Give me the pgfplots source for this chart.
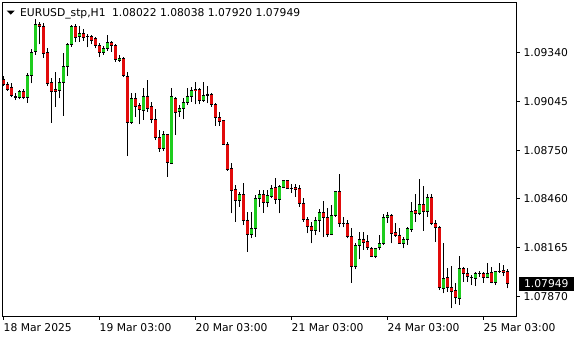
\documentclass[border=0pt]{standalone}
\usepackage{fontspec}
\setmainfont{DejaVu Sans}
\usepackage{pgfplots}
\usepackage{pgfplotstable}
\pgfplotsset{compat=1.18}
\definecolor{bull}{RGB}{30,205,30}
\definecolor{bear}{RGB}{225,10,10}
\pgfplotstableread{
i o h l c
0 1.09177 1.09197 1.09137 1.09149
1 1.09149 1.09163 1.09109 1.09119
2 1.09131 1.09153 1.09069 1.09081
3 1.09075 1.09093 1.09053 1.09071
4 1.09069 1.09113 1.09057 1.09103
5 1.09107 1.09121 1.09057 1.09067
6 1.09069 1.09213 1.09037 1.09203
7 1.09199 1.09360 1.09153 1.09340
8 1.09344 1.09538 1.09324 1.09510
9 1.09510 1.09524 1.09388 1.09494
10 1.09498 1.09514 1.09308 1.09334
11 1.09338 1.09364 1.09137 1.09153
12 1.09157 1.09183 1.08917 1.09107
13 1.09119 1.09224 1.09013 1.09105
14 1.09113 1.09183 1.09063 1.09161
15 1.09157 1.09338 1.08957 1.09254
16 1.09254 1.09398 1.09197 1.09384
17 1.09384 1.09504 1.09374 1.09494
18 1.09494 1.09510 1.09400 1.09430
19 1.09434 1.09498 1.09404 1.09454
20 1.09454 1.09480 1.09408 1.09430
21 1.09434 1.09450 1.09370 1.09432
22 1.09434 1.09444 1.09388 1.09412
23 1.09420 1.09430 1.09364 1.09378
24 1.09378 1.09394 1.09310 1.09338
25 1.09338 1.09378 1.09324 1.09364
26 1.09364 1.09444 1.09350 1.09400
27 1.09400 1.09410 1.09344 1.09378
28 1.09378 1.09388 1.09284 1.09294
29 1.09290 1.09324 1.09284 1.09304
30 1.09304 1.09314 1.09193 1.09203
31 1.09197 1.09224 1.08716 1.08917
32 1.08917 1.09097 1.08909 1.09063
33 1.09063 1.09097 1.08953 1.09013
34 1.09017 1.09037 1.08907 1.08993
35 1.08989 1.09123 1.08933 1.09077
36 1.09077 1.09173 1.08983 1.09003
37 1.09013 1.09039 1.08913 1.08933
38 1.08933 1.08997 1.08812 1.08827
39 1.08829 1.08873 1.08742 1.08762
40 1.08762 1.08867 1.08746 1.08843
41 1.08847 1.08850 1.08592 1.08678
42 1.08672 1.09123 1.08668 1.09077
43 1.09063 1.09069 1.08843 1.08977
44 1.08983 1.09023 1.08953 1.09003
45 1.09003 1.09063 1.08937 1.09039
46 1.09039 1.09123 1.09023 1.09077
47 1.09077 1.09133 1.09043 1.09113
48 1.09117 1.09163 1.09027 1.09109
49 1.09117 1.09123 1.09027 1.09049
50 1.09049 1.09163 1.09043 1.09083
51 1.09089 1.09137 1.09033 1.09083
52 1.09089 1.09097 1.09013 1.09027
53 1.09027 1.09033 1.08897 1.08947
54 1.08949 1.08983 1.08897 1.08923
55 1.08927 1.08933 1.08782 1.08786
56 1.08788 1.08802 1.08628 1.08638
57 1.08642 1.08676 1.08371 1.08508
58 1.08516 1.08542 1.08321 1.08448
59 1.08448 1.08502 1.08411 1.08482
60 1.08482 1.08552 1.08301 1.08327
61 1.08331 1.08381 1.08141 1.08245
62 1.08245 1.08381 1.08221 1.08281
63 1.08281 1.08482 1.08231 1.08462
64 1.08462 1.08512 1.08411 1.08482
65 1.08482 1.08512 1.08375 1.08438
66 1.08436 1.08512 1.08407 1.08480
67 1.08472 1.08542 1.08462 1.08522
68 1.08524 1.08582 1.08428 1.08456
69 1.08456 1.08542 1.08371 1.08532
70 1.08528 1.08572 1.08522 1.08566
71 1.08566 1.08568 1.08520 1.08522
72 1.08522 1.08548 1.08496 1.08520
73 1.08524 1.08548 1.08472 1.08516
74 1.08518 1.08542 1.08411 1.08432
75 1.08432 1.08462 1.08321 1.08335
76 1.08335 1.08351 1.08251 1.08291
77 1.08295 1.08321 1.08191 1.08271
78 1.08271 1.08351 1.08241 1.08331
79 1.08327 1.08395 1.08261 1.08377
80 1.08377 1.08446 1.08227 1.08347
81 1.08347 1.08401 1.08231 1.08245
82 1.08245 1.08422 1.08241 1.08361
83 1.08357 1.08508 1.08351 1.08502
84 1.08502 1.08608 1.08287 1.08311
85 1.08311 1.08351 1.08287 1.08309
86 1.08311 1.08331 1.08221 1.08231
87 1.08231 1.08281 1.07954 1.08051
88 1.08051 1.08195 1.08035 1.08175
89 1.08175 1.08261 1.08095 1.08217
90 1.08217 1.08261 1.08151 1.08195
91 1.08201 1.08241 1.08151 1.08165
92 1.08161 1.08171 1.08107 1.08111
93 1.08111 1.08161 1.08101 1.08157
94 1.08165 1.08241 1.08151 1.08187
95 1.08187 1.08367 1.08181 1.08347
96 1.08347 1.08381 1.08315 1.08361
97 1.08361 1.08367 1.08191 1.08251
98 1.08255 1.08315 1.08231 1.08237
99 1.08241 1.08281 1.08187 1.08191
100 1.08191 1.08231 1.08161 1.08217
101 1.08217 1.08291 1.08181 1.08281
102 1.08275 1.08438 1.08261 1.08381
103 1.08387 1.08488 1.08321 1.08371
104 1.08371 1.08576 1.08361 1.08422
105 1.08422 1.08536 1.08267 1.08381
106 1.08381 1.08488 1.08351 1.08468
107 1.08468 1.08488 1.08301 1.08311
108 1.08311 1.08331 1.08201 1.08287
109 1.08287 1.08295 1.07910 1.07926
110 1.07920 1.08191 1.07890 1.07980
111 1.07986 1.08041 1.07900 1.07926
112 1.07926 1.08055 1.07800 1.07900
113 1.07906 1.07950 1.07826 1.07864
114 1.07860 1.08115 1.07820 1.08041
115 1.08041 1.08051 1.07960 1.08010
116 1.08010 1.08041 1.07960 1.07990
117 1.07988 1.08000 1.07940 1.07984
118 1.07980 1.08021 1.07934 1.08010
119 1.08012 1.08024 1.07990 1.08008
120 1.08010 1.08021 1.07954 1.07986
121 1.07986 1.08071 1.07980 1.08010
122 1.08015 1.08051 1.07950 1.07954
123 1.07954 1.08027 1.07940 1.08021
124 1.08023 1.08075 1.08015 1.08019
125 1.08025 1.08061 1.07994 1.08017
126 1.08022 1.08038 1.07920 1.07949
}\ohlc
\pgfplotsset{
  chartframe/.style={
    at={(2.7pt,24pt)}, anchor=south west,
    scale only axis, width=513.6pt, height=313.7pt,
    xmin=-0.2, xmax=128.2,
    ymin=1.077539, ymax=1.096407,
    clip mode=individual,
  }
}
\begin{document}
\begin{tikzpicture}[font=\fontsize{10.75}{13}\selectfont]
\useasboundingbox (0,0) rectangle (580pt,340pt);
\begin{axis}[
  chartframe,
  axis line style={line width=1pt, black},
  every tick/.style={line width=1pt, black},
  tick align=outside,
  xtick pos=left, ytick pos=right,
  yticklabel pos=right,
  major tick length=3.5pt,
  xtick={0,24,48,72,96,120},
  xticklabels={18 Mar 2025,19 Mar 03:00,20 Mar 03:00,21 Mar 03:00,24 Mar 03:00,25 Mar 03:00},
  ytick={1.07870,1.08165,1.08460,1.08750,1.09045,1.09340},
  yticklabels={1.07870,1.08165,1.08460,1.08750,1.09045,1.09340},
  tick label style={font=\fontsize{10.75}{13}\selectfont, inner sep=0pt},
  xticklabel style={anchor=north west, yshift=-4pt},
  yticklabel style={anchor=west, xshift=3.5pt},
]
% wicks
\addplot[draw=none, mark=none, forget plot,
  error bars/.cd, y dir=plus, y explicit, error mark=none,
  error bar style={draw=black, line width=1pt, line cap=butt}]
  table[x=i, y=l, y error plus expr={\thisrow{h}-\thisrow{l}}] {\ohlc};
% body outlines
\addplot[draw=none, mark=none, forget plot,
  error bars/.cd, y dir=minus, y explicit, error mark=none,
  error bar style={draw=black, line width=3.6pt, line cap=butt}]
  table[x=i, y expr={max(\thisrow{o},\thisrow{c})+0.00003},
        y error minus expr={abs(\thisrow{o}-\thisrow{c})+0.00006}] {\ohlc};
\node[fill=black, text=white, anchor=west, inner sep=0pt,
  minimum width=55.7pt, minimum height=14pt, xshift=2pt]
  at (axis cs:128.2,1.07949) {1.07949};
\end{axis}
\begin{axis}[chartframe, hide axis]
% bull fills
\addplot[draw=none, mark=none, forget plot,
  restrict expr to domain={(\thisrow{c}-\thisrow{o})*100000}{7:1000},
  error bars/.cd, y dir=minus, y explicit, error mark=none,
  error bar style={draw=bull, line width=2.2pt, line cap=butt}]
  table[x=i, y expr={\thisrow{c}-0.00003},
        y error minus expr={\thisrow{c}-\thisrow{o}-0.00006}] {\ohlc};
% bear fills
\addplot[draw=none, mark=none, forget plot,
  restrict expr to domain={(\thisrow{o}-\thisrow{c})*100000}{7:1000},
  error bars/.cd, y dir=minus, y explicit, error mark=none,
  error bar style={draw=bear, line width=2.2pt, line cap=butt}]
  table[x=i, y expr={\thisrow{o}-0.00003},
        y error minus expr={\thisrow{o}-\thisrow{c}-0.00006}] {\ohlc};
\end{axis}
\fill[black] (6.7pt,329.3pt) -- (14.7pt,329.3pt) -- (10.7pt,325.3pt) -- cycle;
\node[anchor=base west, inner sep=0pt] at (20pt,323.5pt)
  {EURUSD\_stp,H1\hspace{6.5pt}1.08022 1.08038 1.07920 1.07949};
\end{tikzpicture}
\end{document}
